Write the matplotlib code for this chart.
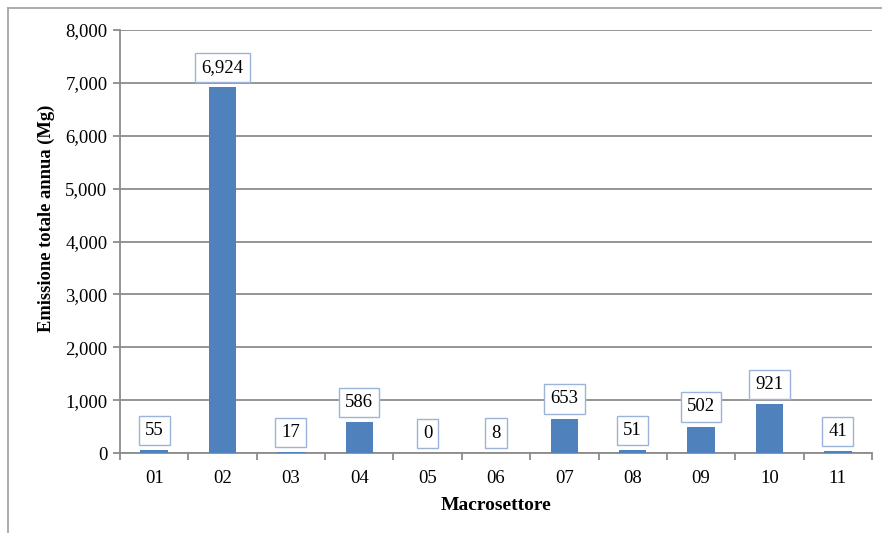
import matplotlib
matplotlib.use('Agg')
import matplotlib.pyplot as plt
from matplotlib.lines import Line2D
import numpy as np

plt.rcParams['font.family'] = ['Liberation Serif', 'DejaVu Serif']

settori = ['01', '02', '03', '04', '05', '06', '07', '08', '09', '10', '11']
emissioni = [55, 6924, 17, 586, 0, 8, 653, 51, 502, 921, 41]

barra = '#4F81BD'
griglia = '#8C8C8C'

fig = plt.figure(figsize=(8.82, 5.33), dpi=100)
ax = fig.add_axes([0.136, 0.150, 0.8527, 0.7937])

x = np.arange(len(settori))
ax.bar(x, emissioni, width=0.4, color=barra, zorder=3)

for xi, v in zip(x, emissioni):
    ax.annotate(f'{v:,}', (xi, v), xytext=(0, 8), textcoords='offset points',
                ha='center', va='bottom', fontsize=13.5, zorder=4,
                bbox=dict(boxstyle='square,pad=0.33', fc='white', ec='#9DB3DB', lw=1))

ax.set_xlim(-0.5, len(settori) - 0.5)
ax.set_ylim(0, 8000)
ax.set_yticks(np.arange(0, 8001, 1000))
ax.set_yticklabels([f'{t:,}' for t in range(0, 8001, 1000)])
ax.set_xticks(x)
ax.set_xticklabels(settori)
ax.set_xticks(np.arange(-0.5, len(settori), 1), minor=True)

ax.grid(axis='y', color=griglia, lw=1.3, zorder=0)
for s in ['top', 'right']:
    ax.spines[s].set_visible(False)
for s in ['left', 'bottom']:
    ax.spines[s].set_color(griglia)
    ax.spines[s].set_linewidth(1.3)

ax.tick_params(axis='y', length=5, color=griglia, width=1.3, labelsize=13.5, pad=4)
ax.tick_params(axis='x', which='major', length=0, labelsize=13.5, pad=12)
ax.tick_params(axis='x', which='minor', length=5, color=griglia, width=1.3)

ax.set_xlabel('Macrosettore', fontsize=14, fontweight='bold')
ax.set_ylabel('Emissione totale annua (Mg)', fontsize=13.3, fontweight='bold')
ax.xaxis.set_label_coords(0.5, -0.104)
ax.yaxis.set_label_coords(-0.0864, 0.556)

# cornice esterna
fig.add_artist(Line2D([8 / 882, 1.0], [1 - 8 / 533, 1 - 8 / 533], color='#A6A6A6', lw=1.3))
fig.add_artist(Line2D([8 / 882, 8 / 882], [0.0, 1 - 8 / 533], color='#A6A6A6', lw=1.3))

fig.savefig('out.png', dpi=100)
